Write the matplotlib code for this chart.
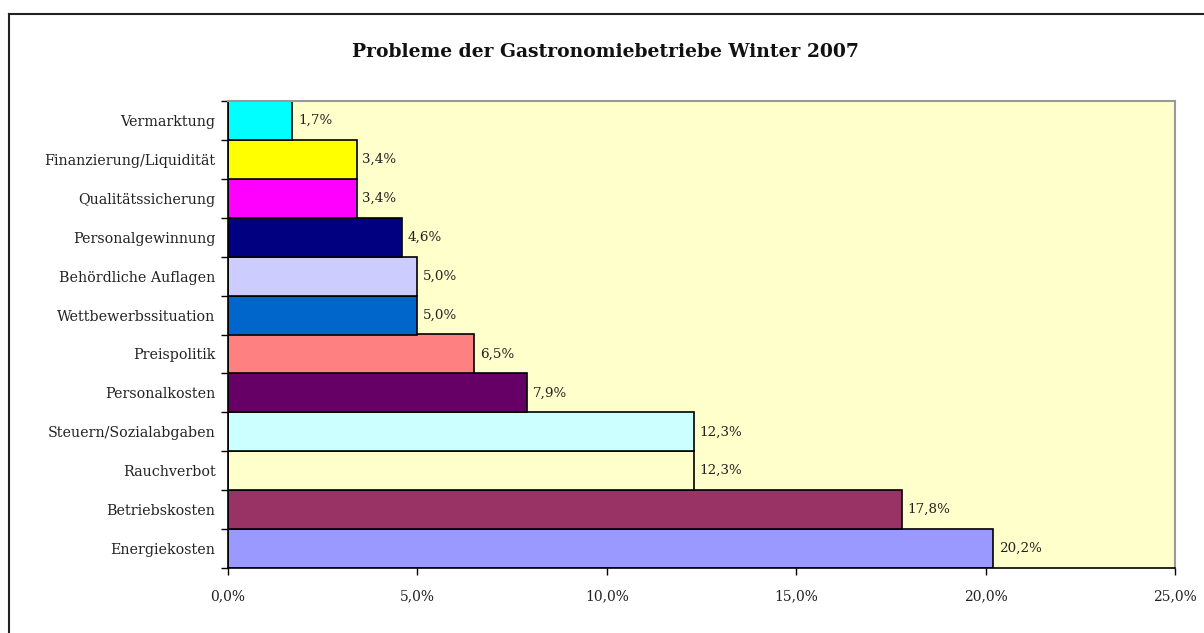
import matplotlib.pyplot as plt
from matplotlib.lines import Line2D
import numpy as np

categories = ["Energiekosten", "Betriebskosten", "Rauchverbot", "Steuern/Sozialabgaben",
              "Personalkosten", "Preispolitik", "Wettbewerbssituation", "Behördliche Auflagen",
              "Personalgewinnung", "Qualitätssicherung", "Finanzierung/Liquidität", "Vermarktung"]
values = [20.2, 17.8, 12.3, 12.3, 7.9, 6.5, 5.0, 5.0, 4.6, 3.4, 3.4, 1.7]
colors = ["#9999FF", "#993366", "#FFFFCC", "#CCFFFF", "#660066", "#FF8080",
          "#0066CC", "#CCCCFF", "#000080", "#FF00FF", "#FFFF00", "#00FFFF"]
xticks = [0, 5, 10, 15, 20, 25]

plt.rcParams['font.family'] = ['DejaVu Serif']

fig = plt.figure(figsize=(12.04, 6.33), dpi=100)
ax = fig.add_axes([228 / 1204, 1 - 568 / 633, 947 / 1204, 467 / 633])
ax.set_facecolor("#FFFFCC")

y = np.arange(len(categories))
ax.barh(y, values, height=1.0, color=colors, edgecolor="black", linewidth=1.2)

for yi, v in zip(y, values):
    ax.annotate(f"{v:.1f}%".replace(".", ","), (v, yi), xytext=(4, 0),
                textcoords="offset points", va="center", ha="left", fontsize=9.7, color="#222222")

ax.set_xlim(0, 25)
ax.set_ylim(-0.5, len(categories) - 0.5)
ax.set_xticks(xticks)
ax.set_xticklabels([f"{t:.1f}%".replace(".", ",") for t in xticks], fontsize=10, color="#222222")
ax.set_yticks(y)
ax.set_yticklabels(categories, fontsize=10.3, color="#222222")
ax.set_yticks(np.arange(-0.5, len(categories)), minor=True)
ax.tick_params(axis="y", which="major", length=0, pad=9)
ax.tick_params(axis="y", which="minor", length=5, direction="out", width=1)
ax.tick_params(axis="x", length=5, direction="out", width=1, pad=10)

for side in ["top", "right"]:
    ax.spines[side].set_color("#999999")
    ax.spines[side].set_linewidth(1.5)
for side in ["left", "bottom"]:
    ax.spines[side].set_color("black")
    ax.spines[side].set_linewidth(1.2)

fig.text(0.5025, 1 - 52 / 633, "Probleme der Gastronomiebetriebe Winter 2007",
         ha="center", va="center", fontsize=13.5, fontweight="bold", color="#111111")

# outer chart border (only top and left visible in the crop)
fig.add_artist(Line2D([9 / 1204, 1], [1 - 14 / 633, 1 - 14 / 633], color="#222222", lw=1.5))
fig.add_artist(Line2D([9 / 1204, 9 / 1204], [0, 1 - 14 / 633], color="#222222", lw=1.5))

fig.savefig("out.png", dpi=100)
